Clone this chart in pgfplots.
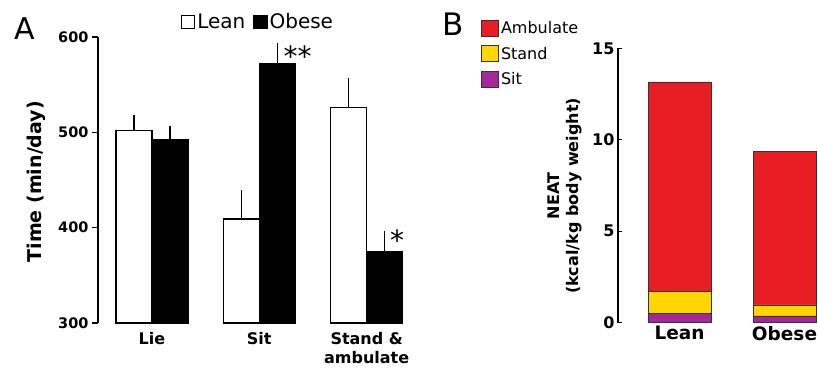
\documentclass[border=0pt]{standalone}
\usepackage{fontspec}
\setmainfont{DejaVu Sans}
\usepackage{pgfplots}
\pgfplotsset{compat=1.18}
\definecolor{ambred}{RGB}{233,30,36}
\definecolor{standyel}{RGB}{255,214,0}
\definecolor{sitpur}{RGB}{165,40,150}
\begin{document}
\begin{tikzpicture}
\useasboundingbox (0,0) rectangle (818pt,370pt);
% Panel A
\begin{axis}[
  at={(98pt,47pt)}, anchor=south west, scale only axis,
  width=317pt, height=286pt,
  xmin=-0.502, xmax=2.45, ymin=300, ymax=600,
  ybar=0pt, bar width=36pt,
  axis lines*=left,
  x axis line style={draw=none},
  y axis line style={line width=1.6pt},
  xtick={0,1,2}, xticklabels={Lie,Sit,{Stand \&\\ambulate}},
  x tick style={draw=none},
  xticklabel style={align=center, font=\fontsize{16}{19}\selectfont\bfseries},
  ytick={300,400,500,600}, ytick align=outside, major tick length=6pt,
  y tick style={line width=1.6pt, black},
  yticklabel style={font=\fontsize{14.5}{17}\selectfont\bfseries},
  /pgf/number format/assume math mode=true,
  ylabel={Time (min/day)},
  every axis y label/.style={at={(rel axis cs:-0.194,0.494)}, rotate=90, anchor=center, font=\fontsize{19}{22}\selectfont\bfseries},
  legend style={at={(rel axis cs:0.505,1.052)}, anchor=center, legend columns=2, draw=none, fill=none, font=\fontsize{20}{24}\selectfont, /tikz/every even column/.append style={column sep=6pt}},
  clip=false,
]
\addplot[draw=black, fill=white, line width=1.4pt,
  legend image code/.code={\draw[black, fill=white, line width=1.2pt] (0pt,-6.5pt) rectangle (13pt,6.5pt);},
  error bars/.cd, y dir=plus, y explicit, error mark=none, error bar style={line width=1.2pt, black}]
  coordinates {(0,502) +- (0,16) (1,409) +- (0,30.5) (2,526) +- (0,31)};
\addplot[draw=black, fill=black, line width=1.4pt,
  legend image code/.code={\draw[black, fill=black, line width=1.2pt] (0pt,-6.5pt) rectangle (13pt,6.5pt);},
  error bars/.cd, y dir=plus, y explicit, error mark=none, error bar style={line width=1.2pt, black}]
  coordinates {(0,492) +- (0,15) (1,572) +- (0,22) (2,375) +- (0,21)};
\legend{Lean,Obese}
\node[font=\fontsize{30}{36}\selectfont, inner sep=0pt] at (rel axis cs:-0.230,1.028) {A};
\node[font=\fontsize{28}{32}\selectfont] at (axis cs:1.358,580) {**};
\node[font=\fontsize{28}{32}\selectfont] at (axis cs:2.284,387) {*};
\end{axis}
% Panel B
\begin{axis}[
  at={(618pt,47.3pt)}, anchor=south west, scale only axis,
  width=200pt, height=274.4pt,
  xmin=-0.586, xmax=1.319, ymin=0, ymax=15,
  ybar stacked, bar width=63pt,
  axis lines*=left,
  x axis line style={draw=none},
  y axis line style={line width=1.2pt},
  xtick={0,1}, xticklabels={Lean,Obese},
  x tick style={draw=none},
  xticklabel style={font=\fontsize{18.5}{22}\selectfont\bfseries},
  ytick={0,5,10,15}, ytick align=inside, major tick length=4pt,
  y tick style={line width=1.2pt, black},
  yticklabel style={font=\fontsize{16}{19}\selectfont\bfseries},
  /pgf/number format/assume math mode=true,
  ylabel={NEAT\\(kcal/kg body weight)},
  every axis y label/.style={at={(rel axis cs:-0.265,0.462)}, rotate=90, anchor=center, align=center, font=\fontsize{16}{19}\selectfont\bfseries},
  legend style={at={(rel axis cs:-0.70,1.114)}, anchor=north west, draw=none, fill=none, font=\fontsize{16}{19}\selectfont, row sep=8pt},
  legend cell align=left,
  reverse legend,
  clip=false,
]
\addplot[fill=sitpur, draw=black!80, line width=0.8pt,
  legend image code/.code={\draw[fill=sitpur, draw=black!80, line width=0.8pt] (0pt,-8pt) rectangle (17pt,8pt);}]
  coordinates {(0,0.5) (1,0.37)};
\addplot[fill=standyel, draw=black!80, line width=0.8pt,
  legend image code/.code={\draw[fill=standyel, draw=black!80, line width=0.8pt] (0pt,-8pt) rectangle (17pt,8pt);}]
  coordinates {(0,1.23) (1,0.6)};
\addplot[fill=ambred, draw=black!80, line width=0.8pt,
  legend image code/.code={\draw[fill=ambred, draw=black!80, line width=0.8pt] (0pt,-8pt) rectangle (17pt,8pt);}]
  coordinates {(0,11.43) (1,8.39)};
\legend{Sit,Stand,Ambulate}
\node[font=\fontsize{31}{36}\selectfont, inner sep=0pt] at (rel axis cs:-0.825,1.087) {B};
\end{axis}
\end{tikzpicture}
\end{document}
